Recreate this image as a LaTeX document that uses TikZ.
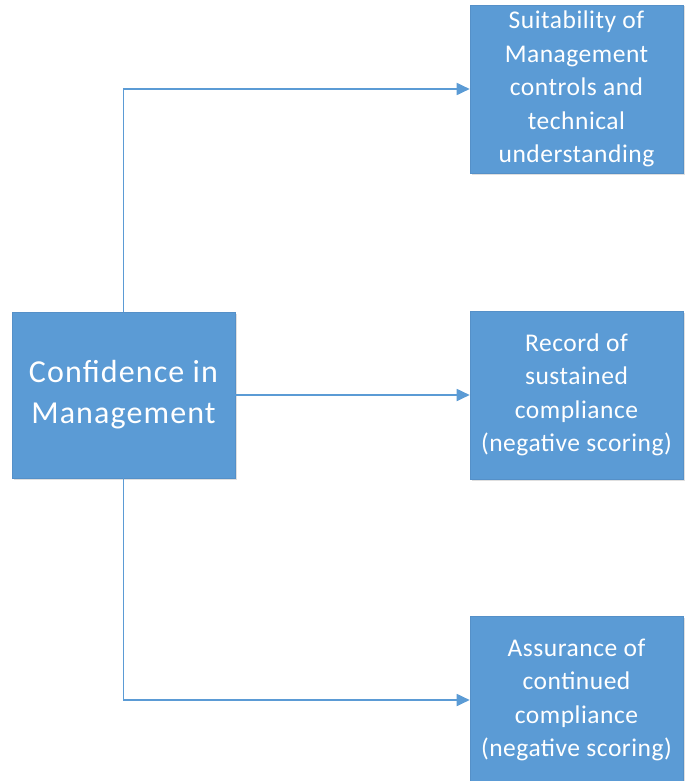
\documentclass[tikz,border=0pt]{standalone}
\usepackage{fontspec}
\setmainfont{Carlito}
\newfontfamily\leaffont[LetterSpace=2]{Carlito}
\newfontfamily\rootfont[LetterSpace=3.5]{Carlito}
\usetikzlibrary{arrows.meta,shadows}
\definecolor{boxblue}{HTML}{5B9BD5}
\definecolor{boxedge}{HTML}{5590C8}
\begin{document}
\begin{tikzpicture}[x=1pt,y=-1pt,
  box/.style={draw=boxedge,line width=0.6pt,fill=boxblue,text=white,align=center,
    inner sep=0pt,drop shadow={shadow xshift=1.5pt,shadow yshift=-1.5pt,opacity=0.25}},
  rootbox/.style={box,minimum width=223pt,minimum height=166pt,
    font=\rootfont\fontsize{32}{41}\selectfont},
  leafbox/.style={box,minimum width=213pt,minimum height=168pt,
    font=\leaffont\fontsize{25.5}{33.5}\selectfont},
  link/.style={draw=boxblue,line width=1.8pt,-{Triangle[length=13pt,width=12pt]}}]
  \useasboundingbox (0,0) rectangle (685,781);
  \node[rootbox] (root) at (123.5,395) {Confidence in\\Management};
  \node[leafbox] (suit) at (576.5,89) {Suitability of\\Management\\controls and\\technical\\understanding};
  \node[leafbox] (rec) at (576.5,395) {Record of\\sustained\\compliance\\(negative scoring)};
  \node[leafbox] (assur) at (576.5,700) {Assurance of\\continued\\compliance\\(negative scoring)};
  \draw[link] (root.north) |- (suit.west);
  \draw[link] (root.east) -- (rec.west);
  \draw[link] (root.south) |- (assur.west);
\end{tikzpicture}
\end{document}
